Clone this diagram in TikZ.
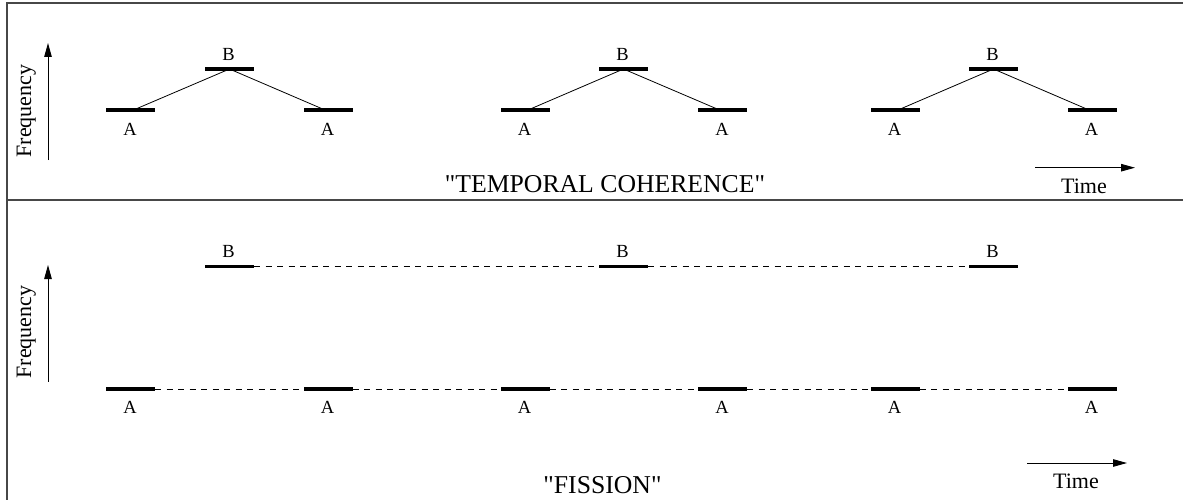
\documentclass[tikz,border=0pt]{standalone}
\usepackage{fontspec}
\setmainfont{Liberation Serif}[Ligatures=TeXOff]
\usetikzlibrary{arrows.meta}
\tikzset{
  tone/.style={draw=none, fill=black, minimum width=49pt, minimum height=3.2pt, inner sep=0pt, outer sep=0pt},
  tonelabel/.style={anchor=base, inner sep=0pt, font=\fontsize{18.5}{20}\selectfont},
  axislabel/.style={anchor=base, inner sep=0pt, font=\fontsize{22}{24}\selectfont},
  title/.style={anchor=base, inner sep=0pt, font=\fontsize{25.7}{28}\selectfont},
  axis/.style={line width=0.9pt, -{Triangle[length=14pt,width=7.5pt]}},
  link/.style={line width=0.8pt},
  stream/.style={line width=0.8pt, dash pattern=on 6pt off 5.5pt},
  frame/.style={line width=1.2pt, draw=black!72}
}
\begin{document}
\begin{tikzpicture}[x=1pt,y=-1pt]
\useasboundingbox (0,0) rectangle (1183,500);

% frame and panel divider
\draw[frame] (7,500) -- (7,3) -- (1183,3);
\draw[frame] (7,200) -- (1183,200);

% ---------- upper panel: temporal coherence ----------
\coordinate (fu0) at (48,160);
\coordinate (fu1) at (48,43);
\draw[axis] (fu0) -- (fu1);
\node[axislabel, rotate=90] (freqU) at (31,111) {Frequency};

\foreach \g/\xa/\xb/\xc in {1/130.5/229.5/328, 2/525/623.5/722.5, 3/895/993.5/1092}{
  \node[tone] (ua\g) at (\xa,110) {};
  \node[tone] (ub\g) at (\xb,69) {};
  \node[tone] (uc\g) at (\xc,110) {};
  \node[tonelabel] (lua\g) at (\xa-0.5,135.5) {A};
  \node[tonelabel] (lub\g) at (\xb-1,61) {B};
  \node[tonelabel] (luc\g) at (\xc-0.5,135.5) {A};
  \draw[link] ([xshift=3pt]ua\g.center) -- (ub\g.center) -- ([xshift=-3pt]uc\g.center);
}

\coordinate (tu0) at (1035,167.7);
\coordinate (tu1) at (1135,167.7);
\draw[axis] (tu0) -- (tu1);
\node[axislabel] (timeU) at (1084,193) {Time};
\node[title] (titleU) at (605,192) {"TEMPORAL COHERENCE"};

% ---------- lower panel: fission ----------
\coordinate (fl0) at (48,381.7);
\coordinate (fl1) at (48,265);
\draw[axis] (fl0) -- (fl1);
\node[axislabel, rotate=90] (freqL) at (31,332) {Frequency};

\foreach \i/\x in {1/130.5, 2/328, 3/525, 4/722.5, 5/895, 6/1092}{
  \node[tone] (la\i) at (\x,389) {};
  \node[tonelabel] (lla\i) at (\x-0.5,413.5) {A};
}
\foreach \i/\x in {1/229.5, 2/623.5, 3/993.5}{
  \node[tone] (lb\i) at (\x,266.5) {};
  \node[tonelabel] (llb\i) at (\x-1,257) {B};
}
\foreach \i/\j in {1/2, 2/3, 3/4, 4/5, 5/6}{
  \draw[stream] (la\i.east) -- (la\j.west);
}
\foreach \i/\j in {1/2, 2/3}{
  \draw[stream] (lb\i.east) -- (lb\j.west);
}

\coordinate (tl0) at (1027,463);
\coordinate (tl1) at (1127,463);
\draw[axis] (tl0) -- (tl1);
\node[axislabel] (timeL) at (1076,488) {Time};
\node[title] (titleL) at (602.5,493) {"FISSION"};
\end{tikzpicture}
\end{document}
